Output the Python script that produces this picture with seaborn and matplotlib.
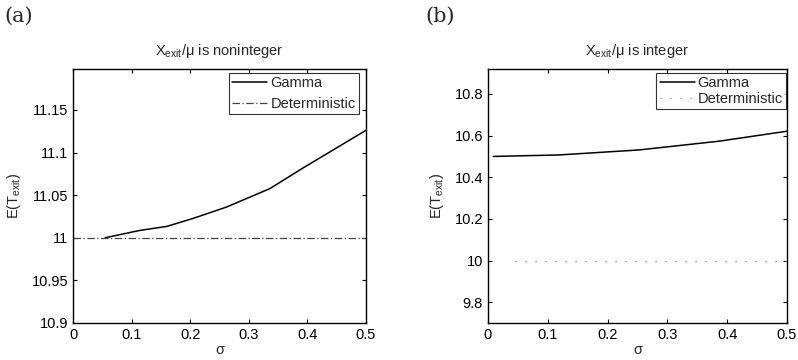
import matplotlib
matplotlib.use("Agg")
import matplotlib.pyplot as plt
import seaborn as sns
import pandas as pd

# Panel (a): X_exit/mu is noninteger
sigma_a = [0.055, 0.114, 0.160, 0.205, 0.262, 0.336, 0.393, 0.5]
gamma_a = [11.0, 11.0086, 11.0133, 11.0227, 11.036, 11.0576, 11.082, 11.126]
det_sigma_a = [0.0, 0.5]
det_a = [11.0, 11.0]

# Panel (b): X_exit/mu is integer
sigma_b = [0.009, 0.118, 0.252, 0.386, 0.5]
gamma_b = [10.50, 10.507, 10.531, 10.573, 10.621]
det_sigma_b = [0.045, 0.5]
det_b = [10.0, 10.0]

xticks = [0, 0.1, 0.2, 0.3, 0.4, 0.5]
yticks_a = [10.9, 10.95, 11.0, 11.05, 11.1, 11.15]
ytick_labels_a = ["10.9", "10.95", "11", "11.05", "11.1", "11.15"]
yticks_b = [9.8, 10.0, 10.2, 10.4, 10.6, 10.8]
ytick_labels_b = ["9.8", "10", "10.2", "10.4", "10.6", "10.8"]

sns.set_style("ticks")
plt.rcParams["font.family"] = ["Liberation Sans", "DejaVu Sans"]

fig = plt.figure(figsize=(7.98, 3.6), dpi=100)
ax_a = fig.add_axes([0.0915, 0.1028, 0.367, 0.7056])
ax_b = fig.add_axes([0.6115, 0.1028, 0.3747, 0.7056])


def draw_panel(ax, s, g, ds, d, det_style, det_color, ylim, yticks, ylabels, title,
               legend_box, spacing):
    sns.lineplot(x=s, y=g, ax=ax, color="black", linewidth=1.1, label="Gamma")
    sns.lineplot(x=ds, y=d, ax=ax, color=det_color, linewidth=0.9,
                 linestyle=det_style, label="Deterministic")
    ax.set_xlim(0, 0.5)
    ax.set_ylim(*ylim)
    ax.set_xticks(xticks)
    ax.set_xticklabels(["0", "0.1", "0.2", "0.3", "0.4", "0.5"])
    ax.set_yticks(yticks)
    ax.set_yticklabels(ylabels)
    ax.tick_params(direction="in", length=3, width=0.8, labelsize=10.5,
                   top=True, right=True, colors="black")
    for sp in ax.spines.values():
        sp.set_visible(True)
        sp.set_color("black")
        sp.set_linewidth(1.0)
    ax.set_xlabel("σ", fontsize=10.5, labelpad=1)
    ax.set_ylabel(r"E(T$_{\mathregular{exit}}$)", fontsize=10.5, labelpad=6)
    ax.set_title(title, fontsize=10.5, pad=10)
    leg = ax.legend(loc="upper right", bbox_to_anchor=legend_box, fontsize=10.5,
                    frameon=True, fancybox=False, borderpad=0.25, labelspacing=spacing,
                    handlelength=2.4, handletextpad=0.2, borderaxespad=0.25)
    leg.get_frame().set_edgecolor("black")
    leg.get_frame().set_linewidth(0.8)


draw_panel(ax_a, sigma_a, gamma_a, det_sigma_a, det_a, (0, (6, 2, 1, 2)), "#444444",
           (10.9, 11.198), yticks_a, ytick_labels_a,
           r"X$_{\mathregular{exit}}$/μ is noninteger", (0.99, 1.0), 0.45)
draw_panel(ax_b, sigma_b, gamma_b, det_sigma_b, det_b, (0, (1, 7)), "#888888",
           (9.7, 10.92), yticks_b, ytick_labels_b,
           r"X$_{\mathregular{exit}}$/μ is integer", (1.01, 1.0), 0.1)

fig.text(0.006, 0.955, "(a)", fontsize=15, family="DejaVu Serif", va="center")
fig.text(0.533, 0.955, "(b)", fontsize=15, family="DejaVu Serif", va="center")

fig.savefig("out.png", dpi=100)
